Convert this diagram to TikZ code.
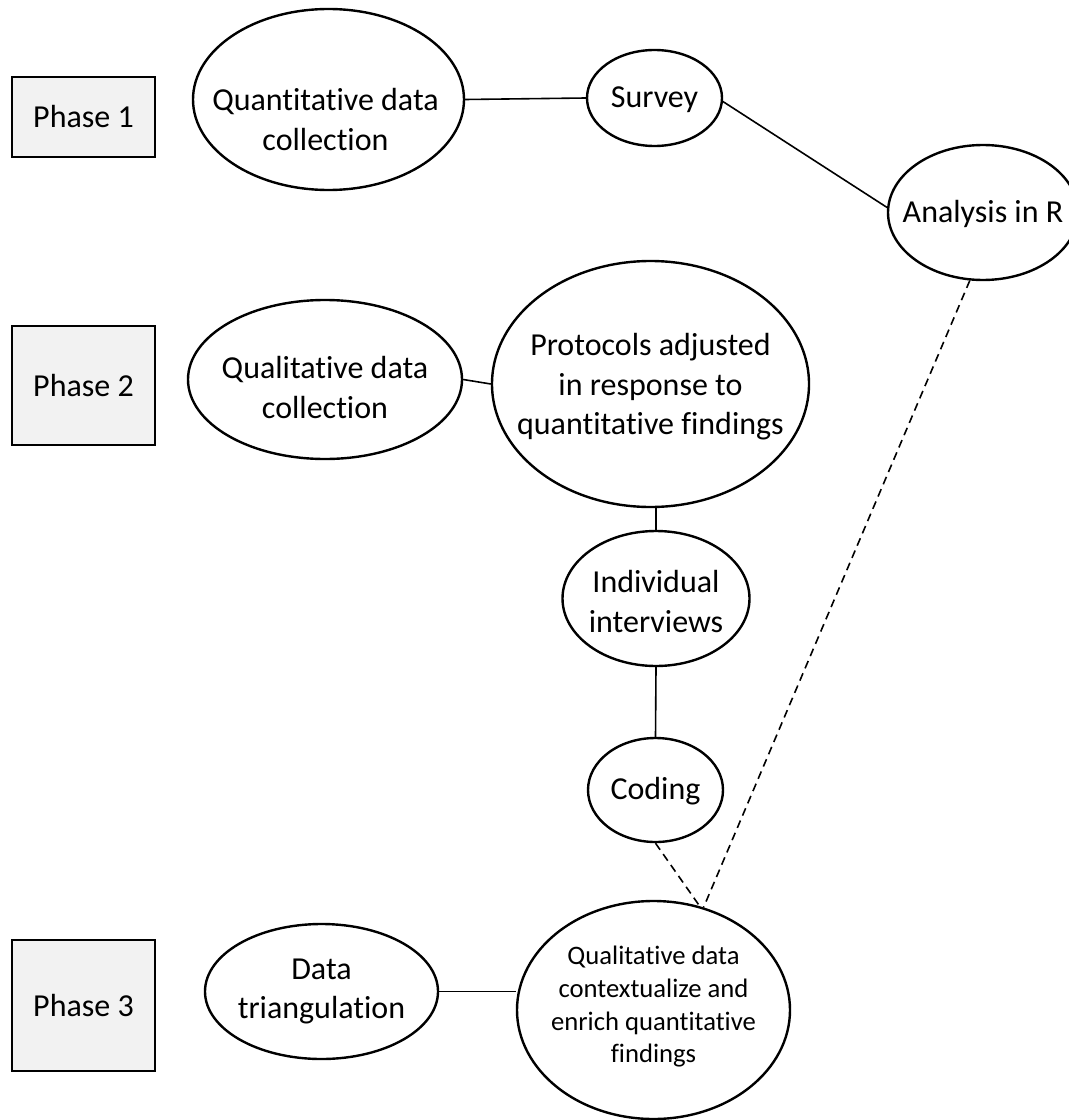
\documentclass[tikz,border=0pt]{standalone}
\usepackage{fontspec}
\setmainfont{Carlito}[Ligatures=NoCommon]
\usetikzlibrary{shapes.geometric,calc}
\begin{document}
\begin{tikzpicture}[x=0.75pt,y=-0.75pt,
  ell/.style args={#1/#2}{ellipse, draw, line width=1.8pt, fill=white, minimum width=#1*0.75pt, minimum height=#2*0.75pt, inner sep=0pt},
  phasebox/.style={draw, line width=1.7pt, fill=black!5, minimum width=143*0.75pt, minimum height=#1*0.75pt, inner sep=0pt, font=\fontsize{24}{29.6}\selectfont},
  txt/.style={align=center, inner sep=0pt, font=\fontsize{24}{29.6}\selectfont},
  smalltxt/.style={align=center, inner sep=0pt, font=\fontsize{20}{24.5}\selectfont},
  conn/.style={line width=1.2pt},
  dconn/.style={line width=1.2pt, dash pattern=on 6pt off 4pt}]
\clip (0,0) rectangle (1069,1120);
\useasboundingbox (0,0) rectangle (1069,1120);
% phase boxes
\node[phasebox=80] (p1) at (83.5,117) {Phase 1};
\node[phasebox=119] (p2) at (83.5,385.5) {Phase 2};
\node[phasebox=131] (p3) at (83.5,1005.5) {Phase 3};
% ellipses
\node[ell=271/181] (qdc) at (328.5,99.5) {};
\node[ell=135/96] (sur) at (654.5,98) {};
\node[ell=190/135] (ana) at (983,212.5) {};
\node[ell=274/159] (qual) at (325,379.5) {};
\node[ell=317/246] (prot) at (650.5,384) {};
\node[ell=187/135] (ind) at (656,598.5) {};
\node[ell=135/104] (cod) at (655.5,790) {};
\node[ell=233/135] (tri) at (321.5,991.5) {};
\node[ell=273/218] (ctx) at (653.5,1010) {};
% texts
\node[txt] (qdc-t) at ($(qdc.center)+(-3,20)$) {Quantitative data\\collection};
\node[txt] (sur-t) at ($(sur.center)+(0,2)$) {Survey};
\node[txt] (ana-t) at ($(ana.center)+(0,1.5)$) {Analysis in R};
\node[txt] (qual-t) at ($(qual.center)+(0,8)$) {Qualitative data\\collection};
\node[txt] (prot-t) at ($(prot.center)+(0,3)$) {Protocols adjusted\\in response to\\quantitative findings};
\node[txt] (ind-t) at ($(ind.center)+(0,3)$) {Individual\\interviews};
\node[txt] (cod-t) at ($(cod.center)+(0,1)$) {Coding};
\node[txt] (tri-t) at (tri.center) {Data\\triangulation};
\node[smalltxt] (ctx-t) at ($(ctx.center)+(0,-3)$) {Qualitative data\\contextualize and\\enrich quantitative\\findings};
% connectors
\draw[conn] (qdc.east) -- (sur.west);
\draw[conn] (sur.-3) -- (ana.177);
\draw[conn] (qual.east) -- (prot.west);
\draw[conn] (ind.north |- prot.south) -- (ind.north);
\draw[conn] (ind.south) -- (cod.north);
\draw[conn] (tri.east) -- (tri.east -| ctx.west);
\draw[dconn] (cod.south) -- (ctx.66);
\draw[dconn] (ana.259) -- (ctx.64);
\end{tikzpicture}
\end{document}
